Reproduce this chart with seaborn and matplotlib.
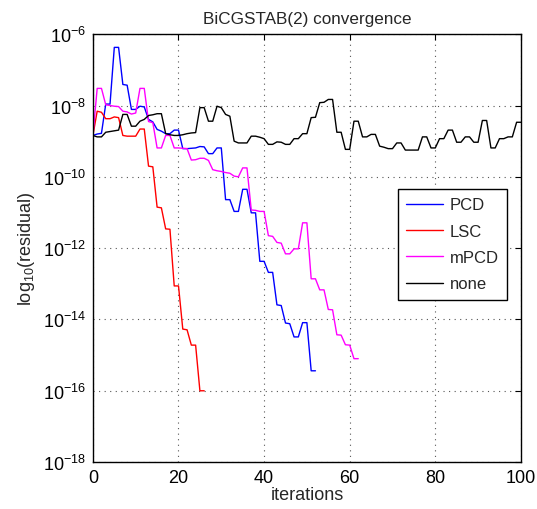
import numpy as np
import pandas as pd
import matplotlib
matplotlib.use("Agg")
import matplotlib.pyplot as plt
import matplotlib.ticker as mticker
import seaborn as sns

# log10 of residual per iteration
pcd_log = [-8.84, -8.80, -8.78, -7.96, -7.96, -6.37, -6.37, -7.41, -7.43, -8.11,
           -8.11, -8.02, -8.04, -8.39, -8.46, -8.67, -8.72, -8.79, -8.79, -8.69,
           -8.69, -9.21, -9.21, -9.20, -9.19, -9.15, -9.16, -9.35, -9.35, -9.19,
           -9.19, -10.64, -10.64, -10.97, -10.97, -10.35, -10.35, -11.01, -11.01, -12.37,
           -12.37, -12.68, -12.68, -13.59, -13.61, -14.10, -14.12, -14.49, -14.49, -14.09,
           -14.09, -15.44, -15.44]
lsc_log = [-8.84, -8.16, -8.19, -8.37, -8.37, -8.32, -8.34, -8.84, -8.86, -8.86,
           -8.86, -8.66, -8.66, -9.70, -9.72, -10.85, -10.87, -11.46, -11.47, -13.06,
           -13.06, -14.27, -14.29, -14.72, -14.72, -16.00, -16.00]
mpcd_log = [-8.84, -7.52, -7.52, -7.98, -8.00, -8.02, -8.03, -8.16, -8.18, -8.24,
            -8.21, -7.52, -7.52, -8.45, -8.48, -9.19, -9.19, -8.84, -8.84, -9.19,
            -9.19, -9.20, -9.21, -9.53, -9.52, -9.48, -9.48, -9.54, -9.80, -9.83,
            -9.85, -9.88, -9.90, -9.98, -10.00, -9.75, -9.75, -10.93, -10.94, -10.97,
            -10.97, -11.65, -11.67, -11.84, -11.86, -12.16, -12.16, -12.02, -12.02, -11.29,
            -11.29, -12.86, -12.86, -13.17, -13.17, -13.72, -13.73, -14.43, -14.44, -14.71,
            -14.72, -15.10, -15.10]
none_log = [-8.84, -8.88, -8.88, -8.75, -8.73, -8.71, -8.69, -8.25, -8.25, -8.58,
            -8.58, -8.44, -8.39, -8.28, -8.26, -8.23, -8.23, -8.79, -8.82, -8.84,
            -8.84, -8.82, -8.79, -8.77, -8.76, -8.06, -8.06, -8.44, -8.44, -8.02,
            -8.06, -8.25, -8.30, -9.00, -9.05, -9.05, -9.05, -8.86, -8.86, -8.89,
            -8.93, -9.09, -9.09, -9.02, -9.03, -9.09, -9.09, -8.93, -8.93, -8.79,
            -8.79, -8.34, -8.33, -7.92, -7.91, -7.83, -7.83, -8.75, -8.75, -9.23,
            -9.23, -8.44, -8.44, -8.88, -8.88, -8.81, -8.81, -9.14, -9.17, -9.21,
            -9.21, -9.05, -9.05, -9.25, -9.25, -9.25, -9.25, -8.88, -8.88, -9.19,
            -9.19, -8.93, -8.93, -8.69, -8.69, -9.03, -9.03, -8.88, -8.88, -9.03,
            -9.03, -8.42, -8.42, -9.19, -9.19, -8.93, -8.93, -8.88, -8.88, -8.47,
            -8.47]

series_names = ["PCD", "LSC", "mPCD", "none"]
series_colors = ["#0000ff", "#ff0000", "#ff00ff", "#000000"]
x_ticks = [0, 20, 40, 60, 80, 100]
y_ticks = [1e-6, 1e-8, 1e-10, 1e-12, 1e-14, 1e-16, 1e-18]
y_tick_labels = [r"$10^{-6}$", r"$10^{-8}$", r"$10^{-10}$", r"$10^{-12}$",
                 r"$10^{-14}$", r"$10^{-16}$", r"$10^{-18}$"]

frames = []
for name, vals in zip(series_names, [pcd_log, lsc_log, mpcd_log, none_log]):
    frames.append(pd.DataFrame({"iteration": np.arange(len(vals)),
                                "residual": 10.0 ** np.array(vals),
                                "method": name}))
df = pd.concat(frames, ignore_index=True)

sns.set_style("white")
plt.rcParams["font.family"] = ["Liberation Sans", "DejaVu Sans"]
plt.rcParams["mathtext.fontset"] = "custom"
plt.rcParams["mathtext.rm"] = "Liberation Sans"
plt.rcParams["mathtext.it"] = "Liberation Sans"

fig = plt.figure(figsize=(5.37, 5.10), dpi=100)
ax = fig.add_axes([0.173, 0.092, 0.797, 0.839])

sns.lineplot(data=df, x="iteration", y="residual", hue="method",
             hue_order=series_names, palette=dict(zip(series_names, series_colors)),
             linewidth=1.0, ax=ax, estimator=None, sort=False)

ax.set_yscale("log")
ax.set_xlim(0, 100)
ax.set_ylim(1e-18, 1e-6)
ax.set_xticks(x_ticks)
ax.set_xticklabels([str(t) for t in x_ticks], fontsize=13)
ax.set_yticks(y_ticks)
ax.set_yticklabels(y_tick_labels, fontsize=13)
ax.yaxis.set_minor_locator(mticker.NullLocator())
ax.tick_params(direction="in", length=4, width=0.8, top=True, right=True,
               pad=5, colors="black")
ax.grid(True, which="major", linestyle=(0, (1, 4)), color="#555555", linewidth=0.8)
for s in ax.spines.values():
    s.set_color("black")
    s.set_linewidth(1.0)

ax.set_title("BiCGSTAB(2) convergence", fontsize=12.3, pad=8)
ax.set_xlabel("iterations", fontsize=13, labelpad=0)
ax.set_ylabel(r"log$_{10}$(residual)", fontsize=13, labelpad=4)

leg = ax.legend(loc="upper left", bbox_to_anchor=(0.713, 0.638), borderaxespad=0,
                fontsize=12, frameon=True, fancybox=False, handlelength=2.2,
                labelspacing=0.68, borderpad=0.5, handletextpad=0.4)
leg.get_frame().set_edgecolor("black")
leg.get_frame().set_linewidth(1.0)
leg.get_frame().set_alpha(1.0)

fig.savefig("out.png", dpi=100)
